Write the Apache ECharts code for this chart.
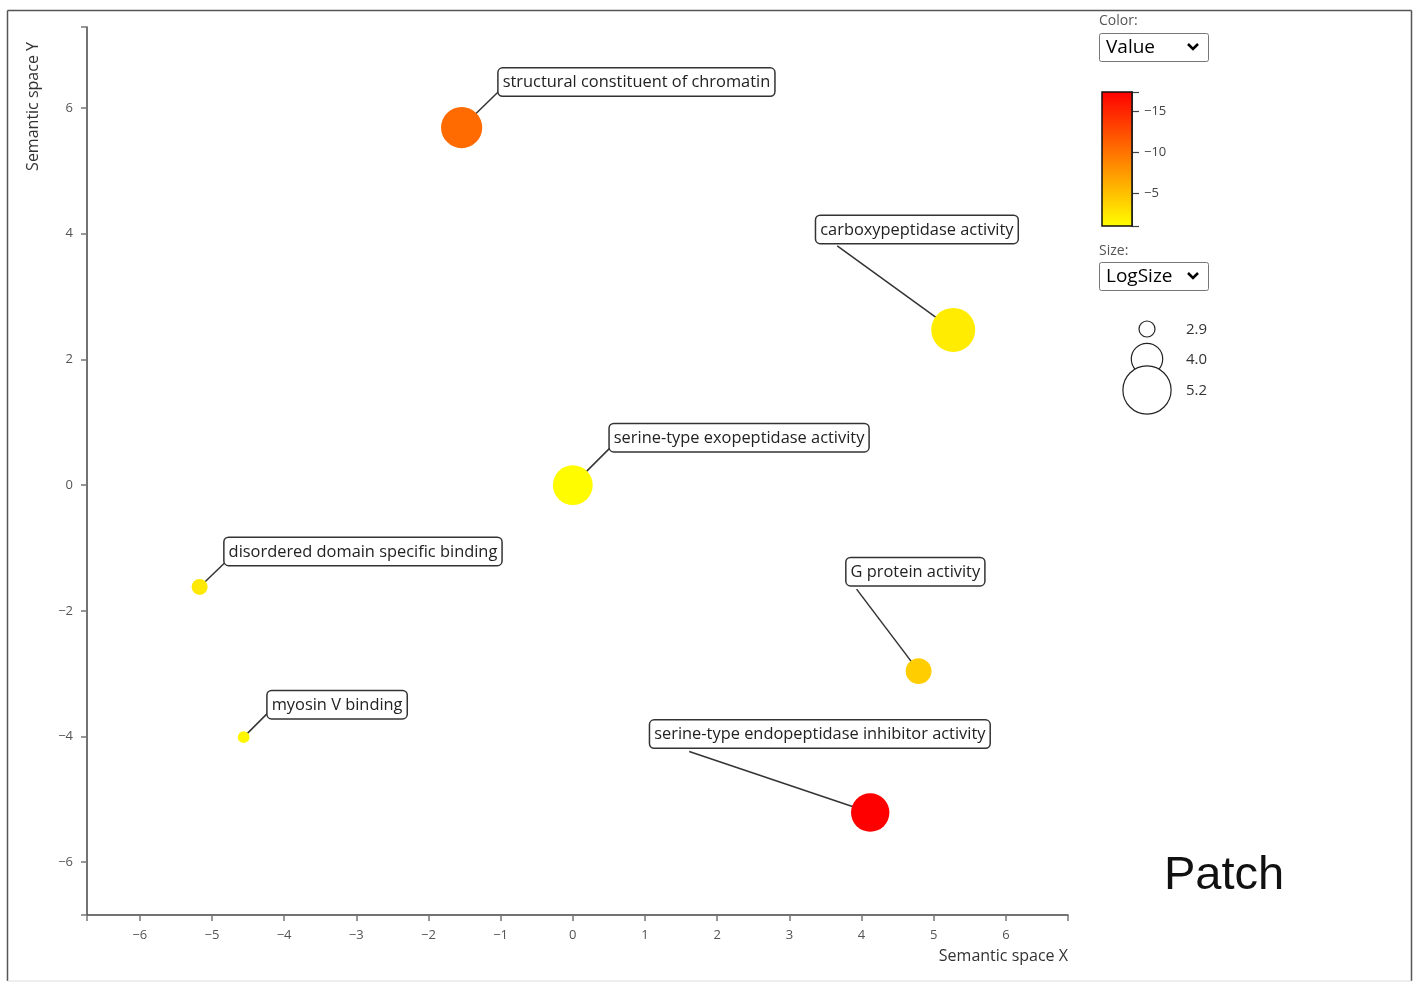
<!DOCTYPE html>
<html><head><meta charset="utf-8">
<script src="https://cdn.jsdelivr.net/npm/echarts@6/dist/echarts.min.js"></script>
<style>html,body{margin:0;padding:0;background:#fff;}#chart{width:1416px;height:982px;}</style>
</head><body><div id="chart"></div>
<script>
// ---- data ----
const termNames = [
  'structural constituent of chromatin',
  'carboxypeptidase activity',
  'serine-type exopeptidase activity',
  'disordered domain specific binding',
  'G protein activity',
  'myosin V binding',
  'serine-type endopeptidase inhibitor activity'
];
const semX = [-1.54, 5.27, 0.0, -5.17, 4.79, -4.56, 4.12];
const semY = [5.69, 2.47, 0.0, -1.62, -2.96, -4.01, -5.21];
const logSize = [4.7, 4.9, 4.6, 2.9, 3.6, 2.6, 4.5];
const termValue = [-10.5, -2.3, -1.3, -2.5, -4.3, -1.6, -17.3];
const xTicks = [-6, -5, -4, -3, -2, -1, 0, 1, 2, 3, 4, 5, 6];
const yTicks = [-6, -4, -2, 0, 2, 4, 6];
const colorTicks = [-15, -10, -5];
const sizeLegendValues = [2.9, 4.0, 5.2];

// ---- layout / style (not data) ----
const X_MIN = -6.73, X_MAX = 6.86, Y_MIN = -6.84, Y_MAX = 7.29;
const C_MIN = -17.3, C_MAX = -1.1;
// label box top-left offset from the bubble centre, and connector anchor inside the box
const labelLayout = [
  {dx: 37, dy: -59, ax: 1, ay: 22},
  {dx: -137, dy: -114, ax: 21, ay: 30},
  {dx: 37, dy: -61, ax: 1, ay: 23},
  {dx: 25, dy: -49, ax: 1, ay: 24},
  {dx: -72, dy: -113, ax: 10, ay: 31},
  {dx: 24, dy: -46, ax: 1, ay: 21},
  {dx: -220, dy: -92, ax: 39, ay: 31}
];
const radiusOf = s => 8 + (s - 2.9) * 7;
const minus = v => String(v).replace('-', '\u2212');
const FONT = '"Open Sans", "Noto Sans", sans-serif';

const pointData = semX.map((x, i) => [x, semY[i], logSize[i], termValue[i]]);

const chart = echarts.init(document.getElementById('chart'), null, {renderer: 'canvas'});

const sizeLegendY = [329, 359, 390];
const graphics = [
  // outer frame
  {type: 'line', shape: {x1: 7.5, y1: 10.5, x2: 1411.5, y2: 10.5}, style: {stroke: '#555', lineWidth: 1.5}},
  {type: 'line', shape: {x1: 7.5, y1: 10.5, x2: 7.5, y2: 981}, style: {stroke: '#555', lineWidth: 1.5}},
  {type: 'line', shape: {x1: 1411.5, y1: 10.5, x2: 1411.5, y2: 981}, style: {stroke: '#555', lineWidth: 1.5}},
  {type: 'line', shape: {x1: 7.5, y1: 981, x2: 1411.5, y2: 981}, style: {stroke: '#ddd', lineWidth: 1}},
  // axis titles
  {type: 'text', x: 1068, y: 956, style: {text: 'Semantic space X', font: '16px ' + FONT, fill: '#333', align: 'right', verticalAlign: 'middle'}},
  {type: 'text', x: 33, y: 42, rotation: Math.PI / 2, style: {text: 'Semantic space Y', font: '16px ' + FONT, fill: '#333', align: 'right', verticalAlign: 'middle'}},
  // colour selector
  {type: 'text', x: 1099, y: 21, style: {text: 'Color:', font: '14px ' + FONT, fill: '#555', align: 'left', verticalAlign: 'middle'}},
  {type: 'rect', shape: {x: 1099.5, y: 33.5, width: 109, height: 28, r: 2}, style: {fill: '#fff', stroke: '#767676', lineWidth: 1}},
  {type: 'text', x: 1106, y: 48, style: {text: 'Value', font: '19px ' + FONT, fill: '#000', align: 'left', verticalAlign: 'middle'}},
  {type: 'polyline', shape: {points: [[1188, 44], [1193, 49], [1198, 44]]}, style: {stroke: '#000', lineWidth: 2.5, fill: null}},
  // size selector
  {type: 'text', x: 1099, y: 251, style: {text: 'Size:', font: '14px ' + FONT, fill: '#555', align: 'left', verticalAlign: 'middle'}},
  {type: 'rect', shape: {x: 1099.5, y: 262.5, width: 109, height: 28, r: 2}, style: {fill: '#fff', stroke: '#767676', lineWidth: 1}},
  {type: 'text', x: 1106, y: 277, style: {text: 'LogSize', font: '19px ' + FONT, fill: '#000', align: 'left', verticalAlign: 'middle'}},
  {type: 'polyline', shape: {points: [[1188, 273], [1193, 278], [1198, 273]]}, style: {stroke: '#000', lineWidth: 2.5, fill: null}},
  // watermark-like text
  {type: 'text', x: 1164, y: 876, style: {text: 'Patch', font: '47px "Liberation Sans", Arial, sans-serif', fill: '#111', align: 'left', verticalAlign: 'middle'}}
];
sizeLegendValues.forEach((v, k) => {
  graphics.push({type: 'circle', shape: {cx: 1147, cy: sizeLegendY[k], r: radiusOf(v)}, style: {fill: '#fff', stroke: '#222', lineWidth: 1.2}, z: 10 + k});
  graphics.push({type: 'text', x: 1186, y: sizeLegendY[k] + 1, style: {text: v.toFixed(1), font: '15px ' + FONT, fill: '#333', align: 'left', verticalAlign: 'middle'}, z: 20});
});

const option = {
  animation: false,
  backgroundColor: '#fff',
  grid: [
    {left: 87, top: 27, width: 981, height: 888, containLabel: false},
    {left: 1102, top: 92, width: 30, height: 134, containLabel: false}
  ],
  xAxis: [
    {
      gridIndex: 0, type: 'value', min: X_MIN, max: X_MAX,
      axisLine: {onZero: false, lineStyle: {color: '#444', width: 1.5}},
      axisTick: {customValues: [X_MIN].concat(xTicks, [X_MAX]), length: 6, lineStyle: {color: '#777', width: 1.5}},
      axisLabel: {customValues: xTicks, formatter: minus, margin: 14, color: '#555', fontSize: 13, fontFamily: FONT},
      splitLine: {show: false}
    },
    {gridIndex: 1, type: 'value', min: 0, max: 1, show: false}
  ],
  yAxis: [
    {
      gridIndex: 0, type: 'value', min: Y_MIN, max: Y_MAX,
      axisLine: {onZero: false, lineStyle: {color: '#444', width: 1.5}},
      axisTick: {customValues: [Y_MIN].concat(yTicks, [Y_MAX]), length: 6, lineStyle: {color: '#777', width: 1.5}},
      axisLabel: {customValues: yTicks, formatter: minus, margin: 14, color: '#555', fontSize: 13, fontFamily: FONT},
      splitLine: {show: false}
    },
    {
      gridIndex: 1, type: 'value', min: C_MIN, max: C_MAX, inverse: true, position: 'right',
      axisLine: {onZero: false, lineStyle: {color: '#222', width: 1.5}},
      axisTick: {customValues: [C_MIN].concat(colorTicks, [C_MAX]), length: 7, lineStyle: {color: '#444', width: 1.2}},
      axisLabel: {customValues: colorTicks, formatter: minus, margin: 12, color: '#444', fontSize: 13, fontFamily: FONT},
      splitLine: {show: false}
    }
  ],
  visualMap: {
    show: false, type: 'continuous', seriesIndex: 0, dimension: 3,
    min: C_MIN, max: C_MAX, inRange: {color: ['#ff0000', '#ffff00']}
  },
  graphic: {elements: graphics},
  series: [
    {
      type: 'custom', xAxisIndex: 0, yAxisIndex: 0, data: pointData,
      encode: {x: 0, y: 1},
      renderItem: function (params, api) {
        const i = params.dataIndex;
        const c = api.coord([api.value(0), api.value(1)]);
        const r = radiusOf(api.value(2));
        const L = labelLayout[i];
        const bx = c[0] + L.dx, by = c[1] + L.dy;
        return {
          type: 'group',
          children: [
            {type: 'line', shape: {x1: c[0], y1: c[1], x2: bx + L.ax, y2: by + L.ay}, style: {stroke: '#333', lineWidth: 1.5}},
            {type: 'circle', shape: {cx: c[0], cy: c[1], r: r}, style: {fill: api.visual('color')}},
            {type: 'text', x: bx, y: by, style: {
              text: termNames[i], font: '16.4px ' + FONT, fill: '#222',
              backgroundColor: '#fff', borderColor: '#333', borderWidth: 1.5, borderRadius: 4,
              padding: [6, 4, 5, 4], align: 'left', verticalAlign: 'top'
            }}
          ]
        };
      }
    },
    {
      type: 'custom', xAxisIndex: 1, yAxisIndex: 1, data: [[0, C_MIN]], silent: true,
      renderItem: function (params, api) {
        const cs = params.coordSys;
        return {
          type: 'rect',
          shape: {x: cs.x, y: cs.y, width: cs.width, height: cs.height},
          style: {
            fill: new echarts.graphic.LinearGradient(0, 0, 0, 1, [
              {offset: 0, color: '#ff0000'}, {offset: 1, color: '#ffff00'}
            ]),
            stroke: '#111', lineWidth: 1.5
          }
        };
      }
    }
  ]
};
chart.setOption(option);
</script></body></html>
